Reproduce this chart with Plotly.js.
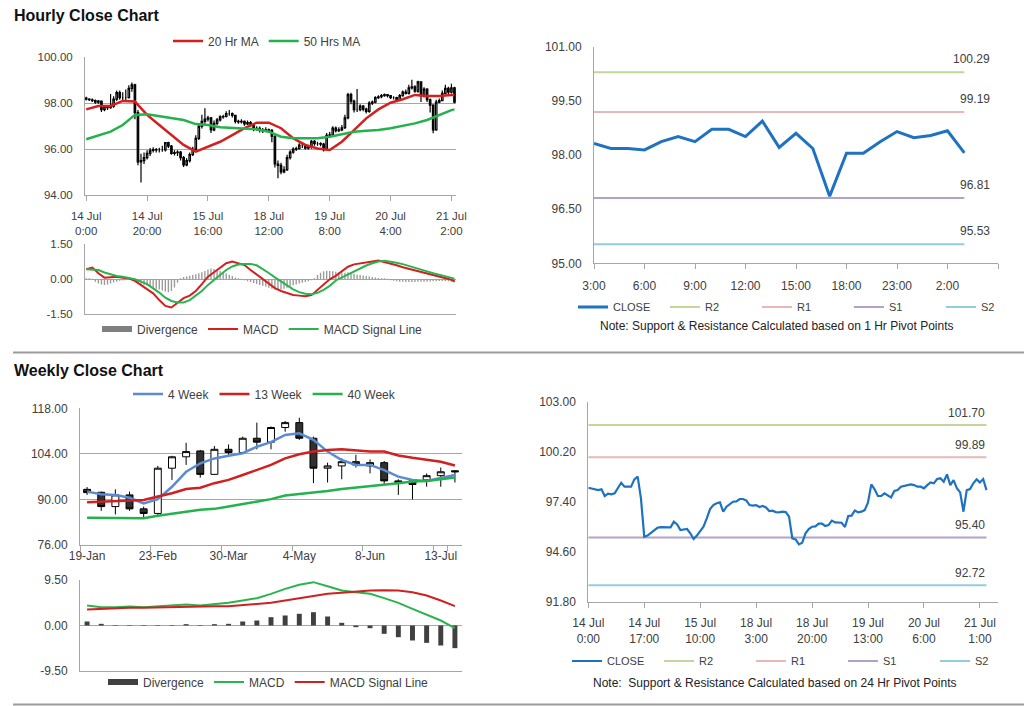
<!DOCTYPE html>
<html><head><meta charset="utf-8">
<script src="https://cdn.plot.ly/plotly-3.0.1.min.js"></script>
<style>html,body{margin:0;padding:0;background:#fff}#chart{width:1024px;height:706px}</style>
</head><body><div id="chart"></div><script>
// ---------------- Hourly data (category index = trading hour) ----------------
const hourTickIdx = [0,20,40,60,80,100,120];
const hourTickText = ['14 Jul<br>0:00','14 Jul<br>20:00','15 Jul<br>16:00','18 Jul<br>12:00','19 Jul<br>8:00','20 Jul<br>4:00','21 Jul<br>2:00'];
const pivot24TickIdx = [0,17,34,51,68,85,102,119];
const pivot24TickText = ['14 Jul<br>0:00','14 Jul<br>17:00','15 Jul<br>10:00','18 Jul<br>3:00','18 Jul<br>20:00','19 Jul<br>13:00','20 Jul<br>6:00','21 Jul<br>1:00'];

const hourOpen = [98.22,98.18,98.15,98.11,98.05,98.09,97.72,97.85,97.81,97.87,
98.18,98.46,98.24,98.24,98.24,98.65,98.80,97.59,95.44,95.50,
95.63,95.81,95.94,95.98,95.96,95.96,95.96,96.28,96.13,95.81,
95.85,95.87,95.63,95.31,95.50,95.76,96.00,96.47,96.99,97.21,
97.31,97.36,96.84,97.12,97.27,97.40,97.42,97.55,97.55,97.47,
97.21,97.18,97.21,97.10,97.16,97.08,96.88,96.90,96.82,96.80,
96.84,96.82,96.56,95.35,95.29,95.01,95.10,95.63,95.87,96.00,
96.02,96.17,96.17,96.04,96.09,96.34,96.24,96.24,96.22,95.98,
96.60,96.62,96.91,96.80,96.84,96.93,97.36,98.37,98.09,97.72,
97.72,97.87,97.74,97.64,98.00,98.05,98.24,98.28,98.33,98.37,
98.33,98.24,98.24,98.15,98.33,98.48,98.43,98.67,98.71,98.52,
98.93,98.33,98.61,98.15,97.92,96.84,98.05,98.11,98.43,98.65,
98.48,98.67];
const hourHigh = [98.28,98.22,98.20,98.16,98.14,98.12,97.92,97.90,98.40,98.30,
98.55,98.55,98.48,98.60,98.78,98.90,98.85,97.70,95.80,95.85,
95.95,96.05,96.08,96.05,96.06,96.15,96.30,96.32,96.18,95.95,
95.95,95.92,95.70,95.60,95.85,96.10,96.60,97.10,97.50,97.78,
97.45,97.40,97.25,97.35,97.48,97.50,97.65,97.70,97.60,97.50,
97.28,97.30,97.25,97.25,97.22,97.12,97.00,96.98,96.92,96.95,
96.90,96.88,96.60,95.50,95.40,95.25,95.75,95.95,96.08,96.10,
96.25,96.24,96.22,96.18,96.40,96.40,96.32,96.30,96.28,96.70,
96.75,97.00,96.98,96.95,97.05,97.50,98.45,98.45,98.15,98.62,
97.95,97.92,97.80,98.08,98.12,98.30,98.35,98.40,98.42,98.40,
98.36,98.30,98.28,98.40,98.55,98.60,98.80,99.02,98.78,98.98,
98.96,98.70,98.65,98.20,97.95,98.15,98.20,98.55,98.80,98.72,
98.85,98.72];
const hourLow = [98.12,98.10,98.05,97.98,97.98,97.62,97.65,97.70,97.76,97.80,
98.10,98.15,98.10,98.12,98.20,98.50,97.30,95.30,94.54,95.35,
95.55,95.70,95.85,95.85,95.85,95.88,95.90,96.05,95.75,95.72,
95.70,95.50,95.22,95.25,95.42,95.70,95.95,96.40,96.90,97.10,
97.20,96.70,96.78,97.05,97.20,97.32,97.38,97.45,97.38,97.12,
97.10,97.12,97.02,97.05,96.98,96.78,96.80,96.72,96.70,96.74,
96.72,96.30,95.20,94.73,94.90,94.95,95.05,95.55,95.80,95.92,
95.98,96.05,95.98,95.98,96.02,96.15,96.15,96.12,95.90,95.95,
96.50,96.55,96.72,96.74,96.78,96.88,97.30,97.95,97.60,97.62,
97.65,97.65,97.55,97.58,97.92,98.00,98.18,98.22,98.28,98.25,
98.18,98.16,98.08,98.10,98.28,98.38,98.38,98.60,98.45,98.45,
98.05,98.25,98.05,97.60,96.69,96.80,98.00,98.08,98.38,98.40,
98.42,98.00];
const hourClose = [98.18,98.15,98.11,98.05,98.09,97.72,97.85,97.81,97.87,98.18,
98.46,98.24,98.24,98.24,98.65,98.80,97.59,95.44,95.50,95.63,
95.81,95.94,95.98,95.96,95.96,95.96,96.28,96.13,95.81,95.85,
95.87,95.63,95.31,95.50,95.76,96.00,96.47,96.99,97.21,97.31,
97.36,96.84,97.12,97.27,97.40,97.42,97.55,97.55,97.47,97.21,
97.18,97.21,97.10,97.16,97.08,96.88,96.90,96.82,96.80,96.84,
96.82,96.56,95.35,95.29,95.01,95.10,95.63,95.87,96.00,96.02,
96.17,96.17,96.04,96.09,96.34,96.24,96.24,96.22,95.98,96.60,
96.62,96.91,96.80,96.84,96.93,97.36,98.37,98.09,97.72,97.72,
97.87,97.74,97.64,98.00,98.05,98.24,98.28,98.33,98.37,98.33,
98.24,98.24,98.15,98.33,98.48,98.43,98.67,98.71,98.52,98.93,
98.33,98.61,98.15,97.92,96.84,98.05,98.11,98.43,98.65,98.48,
98.67,98.05];

const maIdx = [0,4,8,12,16,20,24,28,32,36,40,44,48,52,56,60,64,68,72,76,80,84,88,92,96,100,104,108,112,116,120,121];
const ma20 = [97.73,97.88,97.88,98.10,98.07,97.49,97.05,96.61,96.18,95.89,96.11,96.32,96.61,96.91,97.15,97.15,96.91,96.47,96.18,96.03,95.96,96.32,96.83,97.34,97.73,98.02,98.17,98.36,98.31,98.31,98.36,98.36];
const ma50 = [96.43,96.61,96.76,97.05,97.49,97.52,97.44,97.38,97.27,97.09,97.05,96.95,96.93,96.91,96.86,96.76,96.54,96.47,96.47,96.47,96.54,96.66,96.76,96.80,96.83,96.91,97.01,97.12,97.27,97.49,97.70,97.73];

const macdIdx = [0,2,4,6,8,10,12,14,16,18,20,22,24,26,28,30,32,34,36,38,40,42,44,46,48,50,52,54,56,58,60,62,64,66,68,70,72,74,76,78,80,82,84,86,88,90,92,94,96,98,100,102,104,106,108,110,112,114,116,118,120,121];
const macdHour = [0.43,0.50,0.26,0.07,0.09,0.11,0.07,0.04,-0.07,-0.24,
-0.41,-0.60,-0.89,-1.14,-1.21,-0.99,-0.81,-0.70,-0.50,-0.21,
0.11,0.30,0.50,0.69,0.76,0.69,0.61,0.40,0.20,0.00,
-0.20,-0.38,-0.50,-0.60,-0.67,-0.70,-0.73,-0.68,-0.45,-0.20,
0.00,0.15,0.33,0.54,0.64,0.69,0.73,0.76,0.80,0.74,
0.68,0.60,0.52,0.45,0.38,0.30,0.24,0.17,0.11,0.05,
-0.02,-0.10];
const signalHour = [0.43,0.43,0.40,0.29,0.21,0.14,0.11,0.07,0.00,-0.10,
-0.21,-0.39,-0.57,-0.79,-0.93,-0.99,-0.99,-0.89,-0.70,-0.50,
-0.24,-0.03,0.19,0.40,0.55,0.63,0.66,0.66,0.60,0.45,
0.27,0.08,-0.10,-0.28,-0.43,-0.55,-0.62,-0.64,-0.58,-0.45,
-0.28,-0.05,0.08,0.20,0.33,0.47,0.59,0.69,0.76,0.79,
0.76,0.71,0.65,0.58,0.50,0.42,0.34,0.26,0.19,0.11,
0.05,0.03];
const divHour = [0.05,0.05,0.02,-0.10,-0.18,-0.22,-0.24,-0.22,-0.18,-0.14,
-0.10,-0.06,-0.05,-0.04,-0.03,-0.04,-0.10,-0.16,-0.22,-0.26,
-0.28,-0.32,-0.36,-0.40,-0.44,-0.48,-0.52,-0.55,-0.50,-0.35,
-0.15,0.05,0.10,0.12,0.15,0.18,0.22,0.26,0.30,0.36,
0.42,0.46,0.44,0.40,0.36,0.30,0.25,0.20,0.14,0.08,
0.04,0.02,-0.04,-0.08,-0.12,-0.16,-0.20,-0.24,-0.28,-0.32,
-0.36,-0.40,-0.44,-0.46,-0.44,-0.40,-0.36,-0.30,-0.26,-0.22,
-0.18,-0.15,-0.12,-0.08,-0.04,0.05,0.18,0.28,0.35,0.37,
0.36,0.34,0.32,0.30,0.28,0.28,0.30,0.28,0.24,0.20,
0.18,0.16,0.14,0.12,0.10,0.08,0.06,0.05,0.04,0.02,
-0.04,-0.06,-0.08,-0.10,-0.11,-0.12,-0.12,-0.12,-0.12,-0.11,
-0.10,-0.10,-0.10,-0.09,-0.08,-0.08,-0.07,-0.07,-0.07,-0.08,
-0.10,-0.12];

// 1 Hr pivot chart
const pivotHourLabels = ['3:00','6:00','9:00','12:00','15:00','18:00','23:00','2:00'];
const pivotHourTickIdx = [0,3,6,9,12,15,18,21,24];
const pivotHourClose = [98.32,98.18,98.18,98.14,98.37,98.51,98.37,98.71,98.71,98.51,98.94,98.21,98.60,98.18,96.86,98.05,98.05,98.37,98.65,98.48,98.54,98.67,98.06];
const hourLevels = {R2:100.29, R1:99.19, S1:96.81, S2:95.53};
// 24 Hr pivot levels
const dayLevels = {R2:101.70, R1:99.89, S1:95.40, S2:92.72};

// ---------------- Weekly data ----------------
const weekLabels = ['19-Jan','26-Jan','2-Feb','9-Feb','16-Feb','23-Feb','2-Mar','9-Mar','16-Mar','23-Mar','30-Mar','6-Apr','13-Apr','20-Apr','27-Apr','4-May','11-May','18-May','25-May','1-Jun','8-Jun','15-Jun','22-Jun','29-Jun','6-Jul','13-Jul','20-Jul'];
const weekTickLabels = ['19-Jan','23-Feb','30-Mar','4-May','8-Jun','13-Jul'];
const wOpen  = [93.1,92.2,87.8,91.4,87.1,85.7,99.6,103.1,104.9,97.7,105.4,104.4,108.8,107.6,112.1,113.6,108.8,99.6,100.3,101.6,100.3,101.3,95.7,95.7,96.0,97.3,98.8];
const wHigh  = [93.8,92.4,93.1,92.4,87.8,100.3,103.4,107.4,105.2,106.4,106.9,109.3,113.6,112.4,114.1,115.1,109.3,101.3,102.6,103.7,102.3,101.8,96.2,96.2,98.0,99.8,99.0];
const wLow   = [91.4,86.5,85.4,86.5,84.4,84.9,96.0,100.6,96.7,97.5,103.7,104.2,105.4,105.4,110.8,108.3,95.0,95.2,96.2,99.8,98.0,94.6,91.4,90.0,93.9,93.9,95.2];
const wClose = [92.1,87.8,91.4,87.1,85.7,99.6,103.1,104.7,97.7,105.4,104.4,108.8,107.6,112.1,113.6,108.8,99.6,100.3,101.6,100.6,101.3,95.7,95.2,94.6,97.3,98.5,98.5];
const w4  = [92.4,91.6,91.4,90.5,88.8,90.1,93.9,98.5,101.1,102.6,103.4,104.2,106.2,107.6,109.8,110.3,108.3,104.7,102.1,100.6,100.6,99.0,97.0,96.0,95.7,96.5,97.5];
const w13 = [89.1,89.3,89.5,89.6,89.8,90.9,91.9,93.2,93.6,95.0,96.0,97.5,99.0,100.6,102.6,103.9,104.7,105.2,105.4,105.0,104.7,104.7,103.5,102.8,102.1,101.6,100.4];
const w40 = [84.4,84.4,84.4,84.2,84.2,85.0,85.7,86.2,86.8,87.1,87.8,88.5,89.3,90.1,91.2,91.6,92.2,92.6,93.2,93.6,94.2,94.6,95.0,95.5,95.7,96.2,96.7];
const wMacd   = [4.18,3.83,3.83,3.97,3.83,4.04,4.18,4.38,4.18,4.38,4.73,5.22,5.71,6.61,7.65,8.49,9.05,8.21,7.31,6.96,6.61,5.71,4.73,3.48,2.30,1.04,-0.56];
const wSignal = [3.34,3.48,3.48,3.69,3.69,3.76,3.83,4.04,4.04,4.04,4.04,4.31,4.52,4.73,5.22,5.71,6.26,6.61,6.82,7.10,7.31,7.38,7.31,6.96,6.26,5.22,4.04];
const wDiv    = [0.84,0.35,0.10,0.10,0.10,0.10,0.10,0.28,0.10,0.28,0.35,0.84,1.04,1.74,2.09,2.44,2.78,1.88,0.56,-0.35,-0.56,-1.74,-2.44,-3.13,-3.62,-4.18,-4.73];

// ---------------- helpers ----------------
const X = p => p/1024, Y = p => (706-p)/706;
const FONT = 'Arial, "Liberation Sans", sans-serif';
const TXT = '#404040', AX = '#a6a6a6';
const hourIdx = hourClose.map((_, i) => i);
const phIdx = pivotHourClose.map((_, i) => i);
const flat = (xs, v) => xs.map(() => v);
const fmt = v => v.toFixed(2);

const traces = [];
// Hourly candles
traces.push({type:'candlestick', x:hourIdx, open:hourOpen, high:hourHigh, low:hourLow, close:hourClose,
  xaxis:'x', yaxis:'y', showlegend:false, whiskerwidth:0, hoverinfo:'skip',
  increasing:{line:{color:'#000',width:1.2}, fillcolor:'#ffffff'},
  decreasing:{line:{color:'#000',width:1.2}, fillcolor:'#000000'}});
traces.push({type:'scatter', mode:'lines', x:maIdx, y:ma20, name:'20 Hr MA', xaxis:'x', yaxis:'y', legend:'legend', line:{color:'#d41f1f', width:2.5}});
traces.push({type:'scatter', mode:'lines', x:maIdx, y:ma50, name:'50 Hrs MA', xaxis:'x', yaxis:'y', legend:'legend', line:{color:'#23b24b', width:2.5}});
// Hourly MACD
traces.push({type:'bar', x:hourIdx, y:divHour, width:0.45, marker:{color:'#9a9a9a', line:{width:0}}, xaxis:'x2', yaxis:'y2', showlegend:false, legendgroup:'dh', name:'Divergence'});
traces.push({type:'scatter', mode:'lines', x:[null], y:[null], name:'Divergence', xaxis:'x2', yaxis:'y2', legend:'legend2', legendgroup:'dh', line:{color:'#7f7f7f', width:6}});
traces.push({type:'scatter', mode:'lines', x:macdIdx, y:macdHour, name:'MACD', xaxis:'x2', yaxis:'y2', legend:'legend2', line:{color:'#d41f1f', width:2}});
traces.push({type:'scatter', mode:'lines', x:macdIdx, y:signalHour, name:'MACD Signal Line', xaxis:'x2', yaxis:'y2', legend:'legend2', line:{color:'#2bb34f', width:2}});
// 1 Hr pivot chart
const lvlColors = {R2:'#c3d69b', R1:'#e6b9b8', S1:'#b3a2c7', S2:'#93cddd'};
['R2','R1','S1','S2'].forEach((k, j) => {
  traces.push({type:'scatter', mode:'lines', x:phIdx, y:flat(phIdx, hourLevels[k]), name:k, xaxis:'x3', yaxis:'y3', legend:'legend3', legendrank:j+2, line:{color:lvlColors[k], width:2}});
});
traces.push({type:'scatter', mode:'lines', x:phIdx, y:pivotHourClose, name:'CLOSE', xaxis:'x3', yaxis:'y3', legend:'legend3', legendrank:1, line:{color:'#1f72c0', width:3}});
// Weekly candles
traces.push({type:'candlestick', x:weekLabels, open:wOpen, high:wHigh, low:wLow, close:wClose,
  xaxis:'x4', yaxis:'y4', showlegend:false, whiskerwidth:0, hoverinfo:'skip',
  increasing:{line:{color:'#000',width:1}, fillcolor:'#ffffff'},
  decreasing:{line:{color:'#000',width:1}, fillcolor:'#303030'}});
traces.push({type:'scatter', mode:'lines', x:weekLabels, y:w4, name:'4 Week', xaxis:'x4', yaxis:'y4', legend:'legend4', line:{color:'#5b8bd0', width:2.5}});
traces.push({type:'scatter', mode:'lines', x:weekLabels, y:w13, name:'13 Week', xaxis:'x4', yaxis:'y4', legend:'legend4', line:{color:'#d02020', width:2.5}});
traces.push({type:'scatter', mode:'lines', x:weekLabels, y:w40, name:'40 Week', xaxis:'x4', yaxis:'y4', legend:'legend4', line:{color:'#23b24b', width:2.5}});
// Weekly MACD
traces.push({type:'bar', x:weekLabels, y:wDiv, width:0.35, marker:{color:'#404040', line:{width:0}}, xaxis:'x5', yaxis:'y5', showlegend:false, legendgroup:'dw', name:'Divergence'});
traces.push({type:'scatter', mode:'lines', x:[null], y:[null], name:'Divergence', xaxis:'x5', yaxis:'y5', legend:'legend5', legendgroup:'dw', line:{color:'#404040', width:6}});
traces.push({type:'scatter', mode:'lines', x:weekLabels, y:wMacd, name:'MACD', xaxis:'x5', yaxis:'y5', legend:'legend5', line:{color:'#2bb34f', width:2}});
traces.push({type:'scatter', mode:'lines', x:weekLabels, y:wSignal, name:'MACD Signal Line', xaxis:'x5', yaxis:'y5', legend:'legend5', line:{color:'#d02020', width:2}});
// 24 Hr pivot chart
['R2','R1','S1','S2'].forEach((k, j) => {
  traces.push({type:'scatter', mode:'lines', x:hourIdx, y:flat(hourIdx, dayLevels[k]), name:k, xaxis:'x6', yaxis:'y6', legend:'legend6', legendrank:j+2, line:{color:lvlColors[k], width:2}});
});
traces.push({type:'scatter', mode:'lines', x:hourIdx, y:hourClose, name:'CLOSE', xaxis:'x6', yaxis:'y6', legend:'legend6', legendrank:1, line:{color:'#1f72c0', width:2.2}});

// ---------------- axes ----------------
const base = {showline:true, linecolor:AX, linewidth:1, zeroline:false, fixedrange:true, tickcolor:AX,
  tickfont:{family:FONT, size:12, color:TXT}, showgrid:false};
const xa = (o) => Object.assign({}, base, o);
const ya = (vals, o) => Object.assign({}, base, {tickmode:'array', tickvals:vals, ticktext:vals.map(fmt).map(s=>s.replace('−','-')), ticks:'', ticklabelstandoff:9}, o);

function legendAt(xpx, ypx, size, extra) {
  return Object.assign({orientation:'h', x:X(xpx), y:Y(ypx), xanchor:'left', yanchor:'middle', bgcolor:'rgba(0,0,0,0)',
    borderwidth:0, font:{family:FONT, size:size, color:TXT}, itemwidth:30, tracegroupgap:0, traceorder:'normal'}, extra||{});
}

const layout = {
  width:1024, height:706, margin:{l:0,r:0,t:0,b:0,autoexpand:false}, paper_bgcolor:'#fff', plot_bgcolor:'rgba(0,0,0,0)',
  font:{family:FONT, size:12, color:TXT}, showlegend:true, hovermode:false,
  xaxis: xa({domain:[X(85),X(456)], range:[-0.4,121.5], anchor:'y', tickmode:'array', tickvals:hourTickIdx, ticktext:hourTickText,
    ticks:'outside', ticklen:5, ticklabelstandoff:5, tickangle:0, tickfont:{family:FONT,size:11.5,color:TXT}, rangeslider:{visible:false}}),
  yaxis: ya([94,96,98,100], {domain:[Y(195),Y(57.3)], range:[94,100], anchor:'x', showgrid:true, gridcolor:AX, tickfont:{family:FONT,size:11.5,color:TXT}}),
  xaxis2: xa({domain:[X(85),X(456)], range:[-0.4,121.5], anchor:'y2', showticklabels:false, ticks:''}),
  yaxis2: ya([-1.5,0,1.5], {domain:[Y(314.3),Y(244.3)], range:[-1.5,1.5], anchor:'x2', showgrid:true, gridcolor:AX, tickfont:{family:FONT,size:11.5,color:TXT}}),
  xaxis3: xa({domain:[X(594),X(998)], range:[0,24], anchor:'y3', tickmode:'array', tickvals:pivotHourTickIdx, ticktext:pivotHourLabels.concat(['']),
    ticks:'outside', ticklen:5, ticklabelstandoff:6, tickangle:0}),
  yaxis3: ya([95,96.5,98,99.5,101], {domain:[Y(263.3),Y(46.7)], range:[95,101], anchor:'x3'}),
  xaxis4: xa({type:'category', categoryorder:'array', categoryarray:weekLabels, domain:[X(80),X(462)], range:[-0.5,26.5], anchor:'y4',
    tickmode:'array', tickvals:weekTickLabels, ticktext:weekTickLabels, tickson:'boundaries', ticks:'outside', ticklen:5, tickangle:0, rangeslider:{visible:false}}),
  yaxis4: ya([76,90,104,118], {domain:[Y(545),Y(408.3)], range:[76,118], anchor:'x4', showgrid:true, gridcolor:AX}),
  xaxis5: xa({type:'category', categoryorder:'array', categoryarray:weekLabels, domain:[X(80),X(462)], range:[-0.5,26.5], anchor:'y5', showticklabels:false, ticks:''}),
  yaxis5: ya([-9.5,0,9.5], {domain:[Y(671),Y(580)], range:[-9.5,9.5], anchor:'x5', showgrid:true, gridcolor:AX}),
  xaxis6: xa({domain:[X(588.3),X(998)], range:[0,124.5], anchor:'y6', tickmode:'array', tickvals:pivot24TickIdx, ticktext:pivot24TickText,
    ticks:'outside', ticklen:5, ticklabelstandoff:5, tickangle:0}),
  yaxis6: ya([91.8,94.6,97.4,100.2,103], {domain:[Y(601.7),Y(401.7)], range:[91.8,103], anchor:'x6'}),
  legend:  legendAt(168, 41, 12),
  legend2: legendAt(97, 329, 12),
  legend3: legendAt(573, 307, 11, {entrywidth:47, entrywidthmode:'pixels'}),
  legend4: legendAt(128, 394, 12),
  legend5: legendAt(103, 682, 12),
  legend6: legendAt(567, 661, 11, {entrywidth:47, entrywidthmode:'pixels'}),
  shapes: [
    {type:'line', xref:'paper', yref:'paper', x0:X(13), x1:X(1024), y0:Y(352.5), y1:Y(352.5), line:{color:'#9c9c9c', width:2}},
    {type:'line', xref:'paper', yref:'paper', x0:X(13), x1:X(1024), y0:Y(704.5), y1:Y(704.5), line:{color:'#9c9c9c', width:2}}
  ],
  annotations: [
    {xref:'paper', yref:'paper', x:X(12), y:Y(16), xanchor:'left', yanchor:'middle', showarrow:false, text:'<b>Hourly Close Chart</b>', font:{family:FONT, size:16, color:'#111'}},
    {xref:'paper', yref:'paper', x:X(12), y:Y(370), xanchor:'left', yanchor:'middle', showarrow:false, text:'<b>Weekly Close Chart</b>', font:{family:FONT, size:16, color:'#111'}},
    {xref:'paper', yref:'paper', x:X(777), y:Y(326), xanchor:'center', yanchor:'middle', showarrow:false, text:'Note: Support & Resistance Calculated based on 1 Hr Pivot Points', font:{family:FONT, size:12, color:'#222'}},
    {xref:'paper', yref:'paper', x:X(775), y:Y(683), xanchor:'center', yanchor:'middle', showarrow:false, text:'Note:  Support & Resistance Calculated based on 24 Hr Pivot Points', font:{family:FONT, size:12, color:'#222'}}
  ]
};
['R2','R1','S1','S2'].forEach(k => {
  layout.annotations.push({xref:'x3', yref:'y3', x:pivotHourClose.length-1, y:hourLevels[k], xanchor:'right', yanchor:'bottom', xshift:28, yshift:4,
    showarrow:false, text:fmt(hourLevels[k]), font:{family:FONT, size:12, color:TXT}});
  layout.annotations.push({xref:'x6', yref:'y6', x:hourClose.length-1, y:dayLevels[k], xanchor:'right', yanchor:'bottom', xshift:1, yshift:3,
    showarrow:false, text:fmt(dayLevels[k]), font:{family:FONT, size:12, color:TXT}});
});

Plotly.newPlot('chart', traces, layout, {displayModeBar:false, staticPlot:true});
</script></body></html>
